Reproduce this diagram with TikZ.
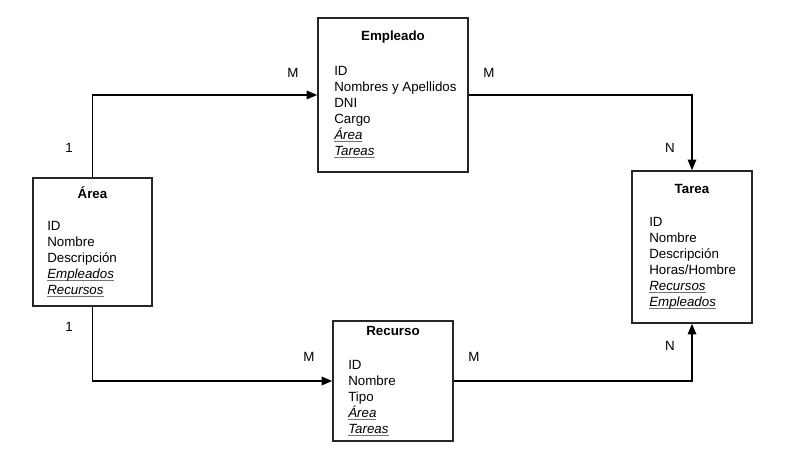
\documentclass[tikz,border=0pt]{standalone}
\usepackage{fontspec}
\setmainfont{Liberation Sans}
\usepackage{xcolor}
\usepackage{tikz}
\usetikzlibrary{arrows.meta}
\usetikzlibrary{positioning}

\tikzset{
  entidad/.style={draw=black!85, line width=1.2pt, fill=white},
  titulo/.style={font=\bfseries\fontsize{10}{12}\selectfont},
  campos/.style={align=left, anchor=north west, inner sep=0pt, font=\fontsize{10}{12}\selectfont},
  card/.style={font=\fontsize{10}{12}\selectfont},
  rel/.style={line width=1pt, -{Triangle[length=8pt,width=6.5pt]}}
}
\newcommand{\fk}[1]{\leavevmode\setbox0\hbox{\textit{#1}}\rlap{\textcolor{black!55}{\rule[-1.8pt]{\wd0}{0.7pt}}}\box0}

\begin{document}
\begin{tikzpicture}[x=0.75pt, y=-0.75pt]
    % Fond
    \useasboundingbox (0,0) rectangle (798,466);

    % Entidad Empleado
    \node[entidad, minimum width=112.5pt, minimum height=115.5pt] (empl) at (393,95) {};
    \node[titulo] (emplT) at (393,37) {Empleado};
    \node[campos] (emplC) at (334,66) {ID\\Nombres y Apellidos\\DNI\\Cargo\\\fk{Área}\\\fk{Tareas}};

    % Entidad Área
    \node[entidad, minimum width=89.25pt, minimum height=96pt] (area) at (92.5,242) {};
    \node[titulo] (areaT) at (92.5,193) {Área};
    \node[campos] (areaC) at (47,221) {ID\\Nombre\\Descripción\\\fk{Empleados}\\\fk{Recursos}};

    % Entidad Tarea
    \node[entidad, minimum width=90pt, minimum height=114pt] (tarea) at (692,247) {};
    \node[titulo] (tareaT) at (692,189) {Tarea};
    \node[campos] (tareaC) at (649,217) {ID\\Nombre\\Descripción\\Horas/Hombre\\\fk{Recursos}\\\fk{Empleados}};

    % Entidad Recurso
    \node[entidad, minimum width=90pt, minimum height=90pt] (recu) at (393,381) {};
    \node[titulo] (recuT) at (393,331) {Recurso};
    \node[campos] (recuC) at (348,360) {ID\\Nombre\\Tipo\\\fk{Área}\\\fk{Tareas}};

    % Relaciones
    \draw[rel] (area.north) |- (empl.west);
    \draw[rel] (empl.east) -| (tarea.north);
    \draw[rel] (area.south) |- (recu.west);
    \draw[rel] (recu.east) -| (tarea.south);

    % Cardinalidades
    \node[card] (c1) at (69,148) {1};
    \node[card] (c2) at (293,73) {M};
    \node[card] (c3) at (489,73) {M};
    \node[card] (c4) at (670,148) {N};
    \node[card] (c5) at (69,327) {1};
    \node[card] (c6) at (309,357) {M};
    \node[card] (c7) at (474,357) {M};
    \node[card] (c8) at (670,346) {N};
\end{tikzpicture}
\end{document}
